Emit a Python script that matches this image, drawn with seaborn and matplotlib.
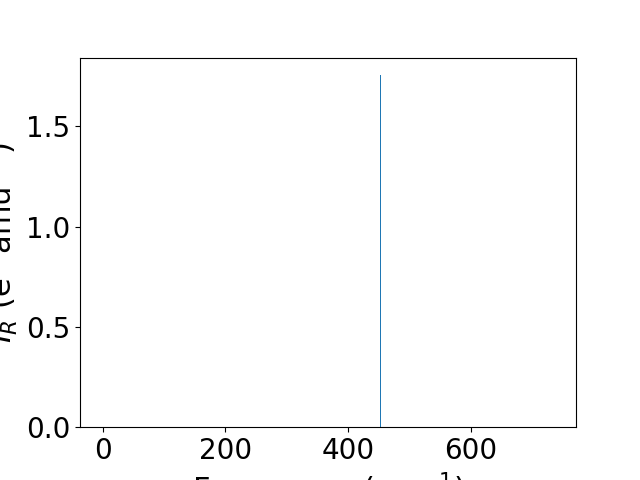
import numpy as np
import pandas as pd
import seaborn as sns
import matplotlib
matplotlib.use("Agg")
import matplotlib.pyplot as plt

# spectrum: one peak near 453 cm^-1
freq = [0.0, 453.0, 453.0, 453.0, 735.0]
intensity = [0.0, 0.0, 1.754, 0.0, 0.0]

df = pd.DataFrame({"freq": freq, "intensity": intensity})

plt.rcParams["font.size"] = 20
plt.rcParams["axes.labelsize"] = 22
fig, ax = plt.subplots(figsize=(6.4, 4.8), dpi=100)
sns.lineplot(data=df, x="freq", y="intensity", sort=False, estimator=None,
             color="#1f77b4", linewidth=0.5, ax=ax)
ax.set_ylim(bottom=0)
ax.set_xlabel("Frequency (cm$^{-1}$)")
ax.set_ylabel("$I_R$ (e$^2$ amu$^{-1}$)")

plt.savefig("out.png")
